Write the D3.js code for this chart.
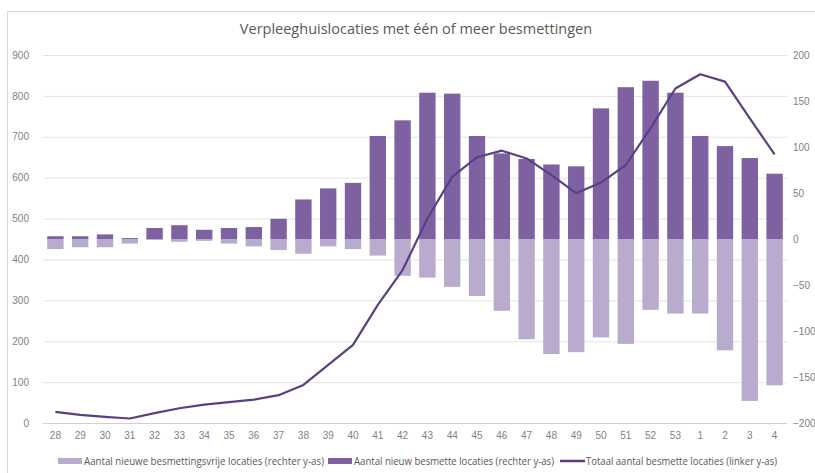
<!DOCTYPE html>
<html>
<head>
<meta charset="utf-8">
<script src="https://cdn.jsdelivr.net/npm/d3@7"></script>
<style>
  body { margin: 0; background: #fff; }
  svg { display: block; font-family: "Open Sans", "Liberation Sans", sans-serif; }
  .tick text { fill: #7f7f7f; font-size: 10px; }
  .legend text { fill: #595959; font-size: 10.5px; }
</style>
</head>
<body>
<div id="chart"></div>
<script>
// weken 28..53 (2020) en 1..4 (2021)
var weeks = ["28","29","30","31","32","33","34","35","36","37","38","39","40","41","42",
  "43","44","45","46","47","48","49","50","51","52","53","1","2","3","4"]

// nieuw besmette locaties (rechter y-as)
var newInfected = [3, 3, 5, 1, 12, 15, 10, 12, 13, 22, 43, 55, 61, 112, 129,
  159, 158, 112, 93, 87, 81, 79, 142, 165, 172, 159, 112, 101, 88, 71]

// nieuwe besmettingsvrije locaties (rechter y-as)
var newFree = [-11, -9, -9, -5, -1, -3, -2, -5, -8, -12, -16, -8, -11, -18, -40,
  -42, -52, -62, -78, -109, -125, -123, -107, -114, -77, -81, -81, -121, -176, -159]

// totaal aantal besmette locaties (linker y-as)
var total = [27, 20, 15, 11, 24, 36, 45, 51, 57, 68, 93, 142, 191, 289, 374,
  500, 602, 650, 666, 647, 606, 562, 588, 631, 721, 818, 853, 835, 745, 657]

var leftTicks = [0, 100, 200, 300, 400, 500, 600, 700, 800, 900]
var rightTicks = [-200, -150, -100, -50, 0, 50, 100, 150, 200]

var W = 815, H = 473
var margin = { top: 55, right: 28, bottom: 50, left: 43 }
var innerW = W - margin.left - margin.right
var innerH = H - margin.top - margin.bottom

var svg = d3.select("#chart").append("svg")
  .attr("width", W)
  .attr("height", H)

// kader
svg.append("rect")
  .attr("x", 7.5).attr("y", 11.5)
  .attr("width", 900).attr("height", 600)
  .attr("fill", "none").attr("stroke", "#d9d9d9")

svg.append("text")
  .attr("x", 416).attr("y", 34)
  .attr("text-anchor", "middle")
  .attr("fill", "#595959")
  .style("font-size", "14.5px")
  .text("Verpleeghuislocaties met één of meer besmettingen")

var g = svg.append("g").attr("transform", "translate(" + margin.left + "," + margin.top + ")")

var x = d3.scaleBand().domain(weeks).range([0, innerW]).paddingInner(0.34).paddingOuter(0.17)
var yL = d3.scaleLinear().domain([0, 900]).range([innerH, 0])
var yR = d3.scaleLinear().domain([-200, 200]).range([innerH, 0])

// rasterlijnen
g.append("g").selectAll("line").data(leftTicks).enter().append("line")
  .attr("x1", 0).attr("x2", innerW)
  .attr("y1", d => yL(d) + 0.5).attr("y2", d => yL(d) + 0.5)
  .attr("stroke", d => d == 0 ? "#d0d0d0" : "#e4e4e4")

var axL = g.append("g")
  .call(d3.axisLeft(yL).tickValues(leftTicks).tickSize(0).tickPadding(14))
axL.select(".domain").remove()

var axR = g.append("g").attr("transform", "translate(" + innerW + ",0)")
  .call(d3.axisRight(yR).tickValues(rightTicks).tickSize(0).tickPadding(6))
axR.select(".domain").remove()

var axB = g.append("g").attr("transform", "translate(0," + innerH + ")")
  .call(d3.axisBottom(x).tickSize(0).tickPadding(9))
axB.select(".domain").remove()

// staven
g.append("g").selectAll("rect").data(newFree).enter().append("rect")
  .attr("x", (d, i) => x(weeks[i]))
  .attr("width", x.bandwidth())
  .attr("y", yR(0))
  .attr("height", d => yR(d) - yR(0))
  .attr("fill", "#b8abcd")

g.append("g").selectAll("rect").data(newInfected).enter().append("rect")
  .attr("x", (d, i) => x(weeks[i]))
  .attr("width", x.bandwidth())
  .attr("y", d => yR(d))
  .attr("height", d => yR(0) - yR(d))
  .attr("fill", "#7e61a1")

// lijn totaal
var line = d3.line()
  .x((d, i) => x(weeks[i]) + x.bandwidth() / 2)
  .y(d => yL(d))

g.append("path")
  .datum(total)
  .attr("d", line)
  .attr("fill", "none")
  .attr("stroke", "#5b3f86")
  .attr("stroke-width", 2.2)
  .attr("stroke-linejoin", "round")

// legenda
var legendItems = [
  { label: "Aantal nieuwe besmettingsvrije locaties (rechter y-as)", color: "#b8abcd", type: "rect", x: 58, w: 240 },
  { label: "Aantal nieuw besmette locaties (rechter y-as)", color: "#7e61a1", type: "rect", x: 328, w: 200 },
  { label: "Totaal aantal besmette locaties (linker y-as)", color: "#5b3f86", type: "line", x: 560, w: 191 }
]

var legend = svg.append("g").attr("class", "legend")
legendItems.forEach(function(item) {
  var lg = legend.append("g").attr("transform", "translate(" + item.x + ",461)")
  if (item.type == "rect") {
    lg.append("rect").attr("x", 0).attr("y", -3).attr("width", 24).attr("height", 6).attr("fill", item.color)
  } else {
    lg.append("line").attr("x1", 0).attr("x2", 25).attr("y1", 0).attr("y2", 0)
      .attr("stroke", item.color).attr("stroke-width", 2.5)
  }
  lg.append("text").attr("x", 26).attr("y", 4)
    .attr("textLength", item.w).attr("lengthAdjust", "spacingAndGlyphs")
    .text(item.label)
})
</script>
</body>
</html>
